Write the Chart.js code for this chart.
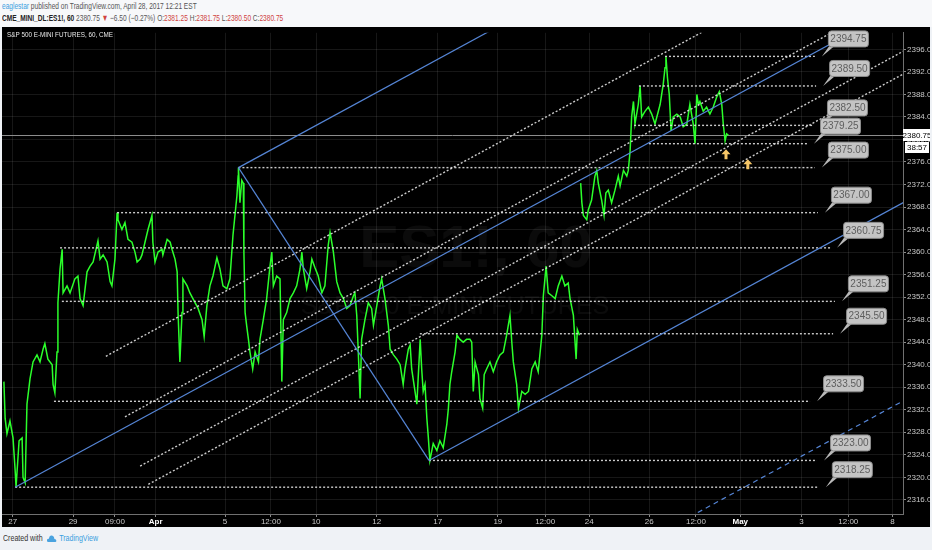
<!DOCTYPE html>
<html>
<head>
<meta charset="utf-8">
<script src="https://cdn.jsdelivr.net/npm/chart.js@4"></script>
<style>
  body { margin:0; width:932px; height:550px; background:#eff2f6; overflow:hidden; position:relative;
         font-family:"Liberation Sans Narrow","Liberation Sans",Arial,sans-serif; }
  #head { position:absolute; left:0; top:0; width:932px; height:27px; background:#f7f8fa; }
  #head div { position:absolute; left:2px; font-size:9px; white-space:nowrap; color:#555; transform-origin:0 0; }
  #l1 { top:1px; } #l2 { top:13px; }
  .red { color:#d0433f; }
  #wrap { position:absolute; left:2px; top:27px; width:928px; height:500px; background:#000; }
  #foot { position:absolute; left:3px; top:533px; font-size:9px; color:#333; white-space:nowrap; transform-origin:0 0; }
  #foot span { color:#3a9ee0; }
  #foot svg { vertical-align:middle; margin:0 3px 0 4px; }
</style>
</head>
<body>
<div id="head">
  <div id="l1"><span style="color:#3a9ee0">eaglestar</span> published on TradingView.com, April 28, 2017 12:21 EST</div>
  <div id="l2"><b style="color:#222">CME_MINI_DL:ES1!, 60</b> 2380.75 <span class="red">&#9660;</span> &minus;6.50 (&minus;0.27%) O:<span class="red">2381.25</span> H:<span class="red">2381.75</span> L:<span class="red">2380.50</span> C:<span class="red">2380.75</span></div>
</div>
<div id="wrap"><canvas id="chart" width="928" height="500"></canvas></div>
<div id="foot">Created with<svg width="14" height="9" viewBox="0 0 13 9"><path d="M2 8 Q0 8 0.5 6 Q1 4.5 3 4.8 Q3.5 1 7 1.5 Q10 2 10 5 Q12.5 5 12.5 6.8 Q12.5 8 11 8 Z" fill="#4aa3df"/></svg><span>TradingView</span></div>
<script>
// x values are trading days counted from Mon Mar 27 (session gaps removed)
const xTickDays = [0, 1.99, 3.37, 4.71, 7.0, 8.51, 10.0, 12.0, 14.01, 15.99, 17.55, 19.0, 20.98, 22.52, 23.98, 26.0, 27.54, 29.0];
const xTickLabels = ['27', '29', '09:00', 'Apr', '5', '12:00', '10', '12', '17', '19', '12:00', '24', '26', '12:00', 'May', '3', '12:00', '8'];
const yTicks = [2316, 2320, 2324, 2328, 2332, 2336, 2340, 2344, 2348, 2352, 2356, 2360, 2364, 2368, 2372, 2376, 2380, 2384, 2388, 2392, 2396];

// ES1! 60 min, traced highs/lows
const priceDays = [
  -0.29, -0.25, -0.19, -0.09, 0.01, 0.08, 0.11, 0.21, 0.31, 0.34, 0.41, 0.47, 0.57, 0.67, 0.80, 0.90, 1.00, 1.06, 1.16, 1.30,
  1.33, 1.39, 1.46, 1.49, 1.56, 1.63, 1.66, 1.79, 1.89, 2.05, 2.15, 2.22, 2.32, 2.45, 2.55, 2.65, 2.81, 2.88, 2.98, 3.11,
  3.21, 3.27, 3.37, 3.44, 3.47, 3.60, 3.70, 3.80, 3.93, 4.03, 4.10, 4.20, 4.26, 4.36, 4.46, 4.59, 4.62, 4.69, 4.79, 4.92,
  4.95, 5.09, 5.19, 5.25, 5.35, 5.42, 5.45, 5.51, 5.58, 5.61, 5.75, 5.84, 5.94, 6.11, 6.24, 6.31, 6.40, 6.50, 6.60, 6.73,
  6.83, 6.93, 7.06, 7.16, 7.26, 7.39, 7.43, 7.44, 7.49, 7.55, 7.60, 7.62, 7.66, 7.71, 7.77, 7.82, 7.91, 7.99, 8.10, 8.15,
  8.26, 8.37, 8.48, 8.54, 8.59, 8.70, 8.81, 8.87, 8.92, 9.03, 9.14, 9.25, 9.36, 9.47, 9.53, 9.58, 9.69, 9.80, 9.86, 9.96,
  10.07, 10.19, 10.29, 10.40, 10.46, 10.57, 10.68, 10.79, 10.90, 11.01, 11.12, 11.23, 11.28, 11.34, 11.39, 11.45, 11.50, 11.61, 11.72, 11.83,
  11.89, 12.00, 12.11, 12.16, 12.27, 12.38, 12.44, 12.55, 12.66, 12.77, 12.87, 12.93, 13.04, 13.10, 13.15, 13.26, 13.32, 13.43, 13.48, 13.53,
  13.59, 13.65, 13.70, 13.75, 13.86, 13.98, 14.08, 14.19, 14.31, 14.36, 14.41, 14.47, 14.58, 14.64, 14.74, 14.85, 14.96, 15.07, 15.13, 15.18,
  15.24, 15.35, 15.40, 15.49, 15.54, 15.62, 15.73, 15.84, 15.95, 16.06, 16.17, 16.28, 16.39, 16.45, 16.50, 16.61, 16.67, 16.78, 16.89, 17.00,
  17.11, 17.22, 17.32, 17.44, 17.49, 17.58, 17.65, 17.77, 17.88, 17.98, 18.10, 18.20, 18.31, 18.37, 18.48, 18.57, 18.61, 18.68, 18.70,
  18.72, 18.76, 18.81, 18.92, 18.97, 19.08, 19.19, 19.25, 19.30, 19.41, 19.49, 19.55, 19.63, 19.74, 19.85, 19.96, 20.02, 20.13, 20.24, 20.29,
  20.35, 20.40, 20.46, 20.51, 20.62, 20.68, 20.73, 20.84, 20.95, 21.06, 21.17, 21.28, 21.34, 21.39, 21.44, 21.50, 21.53, 21.58, 21.64, 21.70,
  21.77, 21.89, 22.00, 22.10, 22.22, 22.32, 22.43, 22.49, 22.55, 22.60, 22.65, 22.76, 22.87, 22.98, 23.09, 23.20, 23.29, 23.37, 23.42, 23.48,
  23.53, 23.59
];
const priceValues = [
  2337.0, 2330.5, 2327.75, 2330.0, 2327.0, 2321.25, 2318.25, 2326.5, 2327.0, 2320.0, 2319.0, 2333.0, 2337.5, 2340.5, 2341.75, 2340.5, 2342.75, 2343.75, 2341.0, 2340.0,
  2336.5, 2335.0, 2342.25, 2351.0, 2357.0, 2360.5, 2352.75, 2354.0, 2352.75, 2355.25, 2355.75, 2351.75, 2350.5, 2356.5, 2357.5, 2358.25, 2362.0, 2358.75, 2359.5, 2358.25,
  2354.75, 2354.0, 2358.75, 2367.0, 2365.75, 2364.0, 2365.25, 2362.25, 2361.75, 2360.0, 2358.25, 2358.75, 2359.5, 2361.75, 2364.0, 2366.5, 2361.75, 2358.25, 2360.0, 2360.5,
  2359.5, 2362.25, 2361.75, 2360.5, 2358.75, 2356.5, 2349.25, 2340.5, 2349.25, 2355.25, 2354.0, 2352.75, 2351.75, 2350.0, 2348.0, 2345.0, 2350.5, 2354.0, 2355.75, 2359.0,
  2357.0, 2354.0, 2353.5, 2355.25, 2363.0, 2370.0, 2373.5, 2375.0, 2368.75, 2372.75, 2372.25, 2360.0, 2349.25, 2347.0, 2344.5, 2342.25, 2339.25, 2342.25, 2340.5, 2344.5,
  2348.0, 2351.75, 2357.5, 2360.0, 2354.0, 2355.75, 2355.25, 2337.0, 2348.0, 2349.25, 2351.75, 2352.75, 2354.0, 2357.0, 2360.0, 2357.0, 2353.5, 2356.5, 2358.75, 2357.25,
  2355.75, 2352.75, 2354.0, 2361.25, 2363.5, 2360.0, 2354.75, 2352.75, 2351.75, 2350.0, 2350.5, 2352.25, 2352.75, 2348.75, 2342.25, 2334.0, 2344.5, 2348.0, 2351.0, 2350.0,
  2347.0, 2350.5, 2354.0, 2355.25, 2351.75, 2347.0, 2342.75, 2341.75, 2341.0, 2340.0, 2336.5, 2339.25, 2342.75, 2343.5, 2339.25, 2335.25, 2333.0, 2344.5, 2339.25, 2335.25,
  2336.5, 2330.5, 2327.0, 2323.0, 2326.0, 2324.75, 2326.5, 2325.25, 2329.5, 2332.25, 2336.5, 2338.75, 2342.25, 2345.25, 2344.5, 2344.0, 2344.5, 2344.5, 2344.0, 2335.25,
  2340.5, 2338.25, 2334.0, 2332.25, 2338.25, 2339.25, 2340.5, 2338.75, 2340.5, 2341.75, 2342.25, 2345.25, 2348.75, 2344.0, 2340.5, 2336.5, 2332.25, 2335.25, 2334.75, 2335.25,
  2339.25, 2340.5, 2338.75, 2345.25, 2352.25, 2357.5, 2352.75, 2352.25, 2351.75, 2354.0, 2355.75, 2354.0, 2354.5, 2351.75, 2348.75, 2341.0, 2346.25, 2345.25, null,
  2372.25, 2368.75, 2366.5, 2365.75, 2367.5, 2369.25, 2373.5, 2374.5, 2372.25, 2369.25, 2366.5, 2370.5, 2371.0, 2368.75, 2371.0, 2373.5, 2371.75, 2374.5, 2373.5, 2374.5,
  2378.0, 2384.0, 2386.75, 2382.75, 2386.25, 2389.5, 2384.0, 2385.0, 2385.75, 2384.5, 2382.75, 2385.0, 2386.25, 2388.0, 2389.75, 2392.75, 2394.75, 2391.0, 2388.0, 2381.5,
  2384.0, 2384.5, 2384.0, 2382.25, 2382.75, 2386.25, 2382.75, 2379.25, 2388.0, 2386.25, 2386.75, 2385.0, 2385.75, 2384.5, 2385.75, 2387.5, 2388.5, 2386.25, 2382.75, 2379.75,
  2381.0, 2380.75
];
const lastPrice = 2380.75;
const countdown = '38:57';

// horizontal levels with callouts
const levelPrices = [2394.75, 2389.50, 2382.50, 2379.25, 2375.00, 2367.00, 2360.75, 2351.25, 2345.50, 2333.50, 2323.00, 2318.25];
const levelStartDays = [21.50, 20.64, 20.48, 20.97, 7.44, 3.44, 1.56, 1.62, 13.42, 1.36, 13.72, 0.08];
const levelEndDays = [26.44, 26.48, 26.41, 26.18, 26.44, 26.54, 26.94, 27.10, 27.04, 26.28, 26.51, 26.57];

// pitchfork pivots A, B, C
const pivotDays = [0.08, 7.44, 13.72];
const pivotPrices = [2318.25, 2375.00, 2323.00];

// dotted channel lines parallel to the median, start points
const channelStartDays = [3.07, 3.70, 4.20, 4.47];
const channelStartPrices = [2341.5, 2330.75, 2322.0, 2318.75];

// yellow arrows
const arrowDays = [23.51, 24.23];
const arrowPrices = [2378.25, 2376.5];

const xMin = -0.353, xMax = 29.344;
const yMin = 2313.49, yMax = 2398.94;

const BLUE = '#5585d5';
const DOT = 'rgba(225,225,225,0.9)';
const NARROW = '"Liberation Sans Narrow", "Liberation Sans", sans-serif';

// squeeze the header/footer lines to the widths TradingView uses
[['l1', 195], ['l2', 281], ['foot', 95]].forEach(([id, w]) => {
  const el = document.getElementById(id);
  el.style.transform = 'scaleX(' + (w / el.offsetWidth) + ')';
});

const A = {x: pivotDays[0], y: pivotPrices[0]};
const B = {x: pivotDays[1], y: pivotPrices[1]};
const C = {x: pivotDays[2], y: pivotPrices[2]};
const M = {x: (B.x + C.x) / 2, y: (B.y + C.y) / 2};
const slope = (M.y - A.y) / (M.x - A.x);
const ray = (p, off = 0) => [{x: p.x, y: p.y + off}, {x: xMax + 1, y: p.y + off + slope * (xMax + 1 - p.x)}];
const medianAtC = A.y + slope * (C.x - A.x);
const warnOff = C.y - medianAtC;

function seg(data, color, dash, width) {
  return {data, borderColor: color, borderWidth: width || 1.2, borderDash: dash || [], pointRadius: 0, order: 0, tension: 0};
}

const datasets = [];
datasets.push(seg(ray(A), BLUE));
datasets.push(seg(ray(B), BLUE));
datasets.push(seg(ray(C), BLUE));
datasets.push(seg([B, C], BLUE));
datasets.push(seg(ray(C, warnOff), BLUE, [5, 4]));
channelStartDays.forEach((d, i) => datasets.push(seg(ray({x: d, y: channelStartPrices[i]}), DOT, [2, 2], 1.4)));
levelPrices.forEach((p, i) => datasets.push(seg([{x: levelStartDays[i], y: p}, {x: levelEndDays[i], y: p}], DOT, [2, 2], 1.4)));
datasets.push({
  data: priceDays.map((d, i) => ({x: d, y: priceValues[i]})),
  borderColor: '#2bff2b', borderWidth: 1.5, pointRadius: 0, spanGaps: false, tension: 0, order: 10
});

function squeezedText(ctx, text, x, y, width) {
  const k = width / ctx.measureText(text).width;
  ctx.save();
  ctx.translate(x, y);
  ctx.scale(k, 1);
  ctx.fillText(text, 0, 0);
  ctx.restore();
}

const decor = {
  id: 'decor',
  beforeDatasetsDraw(chart) {
    const {ctx, chartArea: a, scales: {y}} = chart;
    ctx.save();
    ctx.fillStyle = 'rgba(255,255,255,0.045)';
    ctx.textAlign = 'center';
    ctx.textBaseline = 'middle';
    ctx.font = 'bold 60px "Liberation Sans", sans-serif';
    ctx.fillText('ES1!, 60', 474, 223);
    ctx.font = '25px "Liberation Sans", sans-serif';
    ctx.fillText('S&P 500 E-MINI FUTURES', 453, 280);
    const py = Math.round(y.getPixelForValue(lastPrice)) + 0.5;
    ctx.strokeStyle = '#8d8d8d';
    ctx.lineWidth = 1;
    ctx.beginPath(); ctx.moveTo(a.left, py); ctx.lineTo(a.right, py); ctx.stroke();
    ctx.textAlign = 'left';
    ctx.textBaseline = 'top';
    ctx.fillStyle = '#e8e8e8';
    ctx.font = '8px ' + NARROW;
    squeezedText(ctx, 'S&P 500 E-MINI FUTURES, 60, CME', 5, 4, 106);
    ctx.restore();
  },
  afterDatasetsDraw(chart) {
    const {ctx, scales: {x, y}} = chart;
    ctx.save();
    ctx.textAlign = 'center';
    ctx.textBaseline = 'middle';
    ctx.font = '10px "Liberation Sans", sans-serif';
    levelPrices.forEach((p, i) => {
      const tx = x.getPixelForValue(levelEndDays[i]) + 7;
      const ty = y.getPixelForValue(p);
      const bx = tx + 6, bw = 40, bh = 16, by = ty - 10 - bh;
      ctx.fillStyle = '#b9b9b9';
      ctx.beginPath(); ctx.moveTo(tx, ty); ctx.lineTo(bx + 1, by + bh); ctx.lineTo(bx + 6, by + bh); ctx.closePath(); ctx.fill();
      ctx.beginPath(); ctx.roundRect(bx + 0.5, by + 0.5, bw, bh, 3);
      ctx.fillStyle = '#c4c4c4'; ctx.fill();
      ctx.strokeStyle = '#8c8c8c'; ctx.lineWidth = 1; ctx.stroke();
      ctx.fillStyle = '#5e5e5e';
      ctx.fillText(p.toFixed(2), bx + bw / 2 + 0.5, by + bh / 2 + 1);
    });
    ctx.fillStyle = '#f6c667';
    arrowDays.forEach((d, i) => {
      const px = x.getPixelForValue(d), py = y.getPixelForValue(arrowPrices[i]);
      ctx.beginPath();
      ctx.moveTo(px, py); ctx.lineTo(px + 4.5, py + 5); ctx.lineTo(px + 1.5, py + 5); ctx.lineTo(px + 1.5, py + 10);
      ctx.lineTo(px - 1.5, py + 10); ctx.lineTo(px - 1.5, py + 5); ctx.lineTo(px - 4.5, py + 5); ctx.closePath();
      ctx.fill();
    });
    ctx.restore();
  },
  afterDraw(chart) {
    const {ctx, chartArea: a, scales: {y}} = chart;
    const py = Math.round(y.getPixelForValue(lastPrice));
    ctx.save();
    ctx.fillStyle = '#ffffff';
    ctx.fillRect(a.right, py - 6, 28, 12);
    ctx.fillRect(a.right + 2, py + 7, 24, 11);
    ctx.fillStyle = '#000';
    ctx.textAlign = 'center';
    ctx.textBaseline = 'middle';
    ctx.font = '8px ' + NARROW;
    ctx.fillText(lastPrice.toFixed(2), a.right + 14, py + 0.5);
    ctx.fillText(countdown, a.right + 14, py + 12.5);
    ctx.restore();
  }
};

new Chart(document.getElementById('chart'), {
  type: 'line',
  data: {datasets},
  plugins: [decor],
  options: {
    responsive: false,
    animation: false,
    layout: {padding: {top: 1, left: 0, right: 0, bottom: 0}},
    plugins: {legend: {display: false}, tooltip: {enabled: false}},
    scales: {
      x: {
        type: 'linear', min: xMin, max: xMax,
        afterBuildTicks: s => { s.ticks = xTickDays.map(v => ({value: v})); },
        afterFit: s => { s.height = 13; },
        grid: {color: 'rgba(255,255,255,0.09)', tickLength: 3, tickColor: '#8a8a8a'},
        border: {color: '#707070'},
        ticks: {
          autoSkip: false, maxRotation: 0, padding: 0,
          callback: (v, i) => xTickLabels[i],
          color: c => /Apr|May/.test(xTickLabels[c.index]) ? '#ffffff' : '#c8c8c8',
          font: c => ({size: 8, family: NARROW, weight: /Apr|May/.test(xTickLabels[c.index]) ? 'bold' : 'normal'})
        }
      },
      y: {
        position: 'right', min: yMin, max: yMax,
        afterBuildTicks: s => { s.ticks = yTicks.map(v => ({value: v})); },
        afterFit: s => { s.width = 27; },
        grid: {color: 'rgba(255,255,255,0.09)', tickLength: 3, tickColor: '#8a8a8a'},
        border: {color: '#707070'},
        ticks: {
          padding: 1, color: '#c8c8c8',
          font: {size: 8, family: NARROW},
          callback: v => v.toFixed(2)
        }
      }
    }
  }
});
</script>
</body>
</html>
